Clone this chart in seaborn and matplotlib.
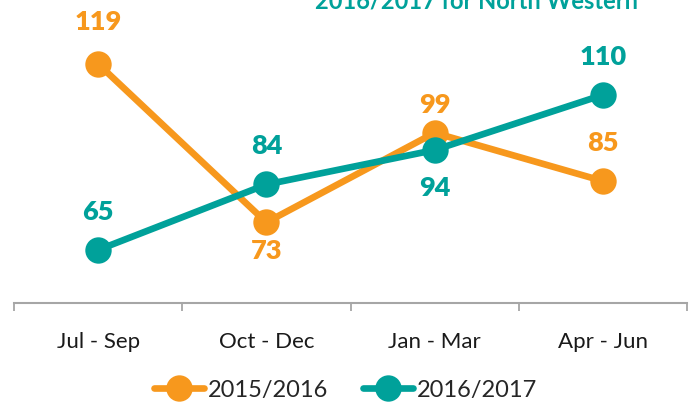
import matplotlib
matplotlib.use("Agg")
import matplotlib.pyplot as plt
import seaborn as sns
import pandas as pd
from matplotlib.lines import Line2D

quarters = ["Jul - Sep", "Oct - Dec", "Jan - Mar", "Apr - Jun"]
series_names = ["2015/2016", "2016/2017"]
values_1516 = [119, 73, 99, 85]
values_1617 = [65, 84, 94, 110]
title_text = "2016/2017 for North Western"

colors = {"2015/2016": "#F7981D", "2016/2017": "#00A19A"}

sns.set_theme(style="white")
plt.rcParams['font.family'] = ['Lato', 'DejaVu Sans']

df = pd.DataFrame({
    "quarter": quarters * 2,
    "pos": list(range(len(quarters))) * 2,
    "value": values_1516 + values_1617,
    "series": [series_names[0]] * 4 + [series_names[1]] * 4,
})

fig = plt.figure(figsize=(6.91, 4.05), dpi=100)
ax = fig.add_axes([14 / 691, 1 - 303 / 405, (687 - 14) / 691, 277 / 405])

LW = 4.8
MS = 19
sns.lineplot(data=df, x="pos", y="value", hue="series", palette=colors,
             marker="o", markersize=MS, linewidth=LW, markeredgewidth=0,
             sort=False, legend=False, ax=ax)

ax.set_xlim(-0.5, 3.5)
ax.set_ylim(49.6, 130)

# label offsets in points: above (+) or below (-)
offsets_1516 = [30, -20.5, 20, 27.5]
offsets_1617 = [27.5, 27.5, -27, 27.5]
for vals, offs, name in [(values_1516, offsets_1516, series_names[0]),
                         (values_1617, offsets_1617, series_names[1])]:
    for i, (v, o) in enumerate(zip(vals, offs)):
        ax.annotate(str(v), (i, v), xytext=(0, o), textcoords="offset points",
                    ha="center", va="center", fontsize=19.5, fontweight="heavy",
                    color=colors[name])

ax.set_xticks([-0.5, 0.5, 1.5, 2.5, 3.5])
ax.set_xticklabels([])
ax.set_xticks(range(len(quarters)), minor=True)
ax.set_xticklabels(quarters, minor=True, fontsize=16, color="#1a1a1a")
ax.tick_params(axis="x", which="major", direction="out", length=6, width=1.3,
               color="#A6A6A6", bottom=True)
ax.tick_params(axis="x", which="minor", length=0, pad=21)
ax.set_yticks([])
ax.set_xlabel("")
ax.set_ylabel("")
for s in ["top", "right", "left"]:
    ax.spines[s].set_visible(False)
ax.spines["bottom"].set_color("#A6A6A6")
ax.spines["bottom"].set_linewidth(1.5)

handles = [Line2D([0], [0], color=colors[n], linewidth=LW, marker="o",
                  markersize=MS, markeredgewidth=0) for n in series_names]
fig.legend(handles, series_names, loc="center", bbox_to_anchor=(0.5, 1 - 390 / 405),
           ncol=2, frameon=False, fontsize=17, handlelength=2.1,
           handletextpad=0.15, columnspacing=1.5)

fig.text(477 / 691, 1 - 1 / 405, title_text, ha="center", va="center",
         fontsize=17, fontweight="bold", color="#00A19A")

fig.savefig("out.png", dpi=100)
